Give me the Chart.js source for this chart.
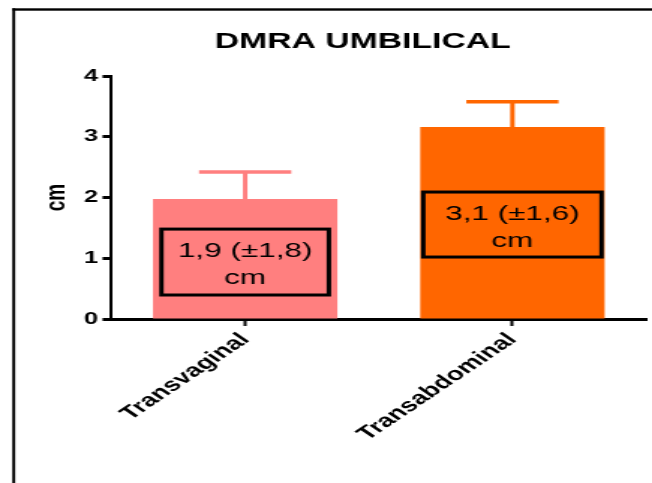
<!DOCTYPE html>
<html>
<head>
<meta charset="utf-8">
<script src="https://cdn.jsdelivr.net/npm/chart.js@4"></script>
<style>
	html, body { margin: 0; padding: 0; background: #fff; overflow: hidden; }
	/* the reference is stretched sideways, so draw narrow and widen */
	#wrap { width: 435px; height: 483px; transform: scaleX(1.4989); transform-origin: 0 0; }
	canvas { display: block; }
</style>
</head>
<body>
<div id="wrap"><canvas id="chart" width="435" height="483"></canvas></div>
<script>
(function () {
	'use strict';

	var categories = ['Transvaginal', 'Transabdominal'];
	var means      = [1.975, 3.16];
	var errorsUp   = [0.445, 0.417];
	var yTicks     = [0, 1, 2, 3, 4];
	var boxTexts   = [['1,9 (±1,8)', 'cm'], ['3,1 (±1,6)', 'cm']];
	var barColors  = ['#FF7F7F', '#FF6600'];

	var FONT = '"Liberation Sans", Arial, sans-serif';
	Chart.defaults.font.family = FONT;
	Chart.defaults.color = '#000';

	// Frame, title, error bars and the text boxes inside the bars.
	var decor = {
		id: 'decor',
		beforeDraw: function (chart) {
			var ctx = chart.ctx;
			ctx.save();
			ctx.fillStyle = '#fff';
			ctx.fillRect(0, 0, chart.width, chart.height);
			ctx.fillStyle = '#000';
			ctx.fillRect(8.2, 8.3, 1.9, chart.height);
			ctx.fillRect(8.2, 8.3, chart.width, 2.4);
			ctx.restore();
		},
		afterDatasetsDraw: function (chart, args, opts) {
			var ctx  = chart.ctx;
			var y    = chart.scales.y;
			var meta = chart.getDatasetMeta(0);
			meta.data.forEach(function (bar, i) {
				var top  = y.getPixelForValue(means[i] + errorsUp[i]);
				var capW = bar.width * 0.5;
				ctx.save();
				ctx.strokeStyle = barColors[i];
				ctx.lineWidth = 3;
				ctx.beginPath();
				ctx.moveTo(bar.x, bar.y);
				ctx.lineTo(bar.x, top);
				ctx.stroke();
				ctx.lineWidth = 3.5;
				ctx.beginPath();
				ctx.moveTo(bar.x - capW / 2, top);
				ctx.lineTo(bar.x + capW / 2, top);
				ctx.stroke();

				var b    = opts.boxes[i];
				var yTop = y.getPixelForValue(b.to);
				var yBot = y.getPixelForValue(b.from);
				var w    = bar.width * b.widthFrac;
				var mid  = (yTop + yBot) / 2;
				ctx.strokeStyle = '#000';
				ctx.lineWidth = 3;
				ctx.strokeRect(bar.x - w / 2, yTop, w, yBot - yTop);
				ctx.fillStyle = '#000';
				ctx.font = '21px ' + FONT;
				ctx.textAlign = 'center';
				ctx.textBaseline = 'alphabetic';
				ctx.fillText(boxTexts[i][0], bar.x, mid - 5);
				ctx.fillText(boxTexts[i][1], bar.x, mid + 22);
				ctx.restore();
			});
		},
		afterDraw: function (chart) {
			var ctx  = chart.ctx;
			var area = chart.chartArea;
			ctx.save();
			ctx.fillStyle = '#000';
			ctx.font = 'bold 22.5px ' + FONT;
			ctx.textAlign = 'center';
			ctx.textBaseline = 'alphabetic';
			ctx.fillText('DMRA UMBILICAL', area.left + (area.right - area.left) * 0.47, 48);
			ctx.restore();
		}
	};

	new Chart(document.getElementById('chart'), {
		type: 'bar',
		data: {
			labels: categories,
			datasets: [{
				data: means,
				backgroundColor: barColors,
				borderWidth: 0,
				categoryPercentage: 1,
				barPercentage: 0.69,
			}],
		},
		options: {
			responsive: false,
			animation: false,
			layout: { padding: { top: 76, left: 0, right: 4, bottom: 0 } },
			plugins: {
				legend: { display: false },
				tooltip: { enabled: false },
				decor: {
					boxes: [
						{ from: 0.395, to: 1.48, widthFrac: 0.908 },
						{ from: 1.02, to: 2.09, widthFrac: 0.967 },
					],
				},
			},
			scales: {
				x: {
					grid: {
						display: true,
						drawOnChartArea: false,
						offset: false,
						tickLength: 7,
						tickWidth: 2,
						tickColor: '#000',
					},
					border: { display: true, color: '#000', width: 3 },
					ticks: {
						minRotation: 45,
						maxRotation: 45,
						padding: 3,
						font: { size: 18.5, weight: 'bold' },
						color: '#000',
					},
					afterFit: function (scale) { scale.height = 164; },
				},
				y: {
					min: 0,
					max: 4,
					afterBuildTicks: function (scale) {
						scale.ticks = yTicks.map(function (v) { return { value: v }; });
					},
					grid: {
						display: true,
						drawOnChartArea: false,
						tickLength: 6,
						tickWidth: 3,
						tickColor: '#000',
					},
					border: { display: true, color: '#000', width: 2 },
					ticks: {
						padding: 3,
						font: { size: 17, weight: 'bold' },
						color: '#000',
					},
					title: {
						display: true,
						text: 'cm',
						font: { size: 19, weight: 'bold' },
						color: '#000',
						padding: { top: 26, bottom: 0 },
					},
					afterFit: function (scale) { scale.width = 74.4; },
				},
			},
		},
		plugins: [decor],
	});
}());
</script>
</body>
</html>
